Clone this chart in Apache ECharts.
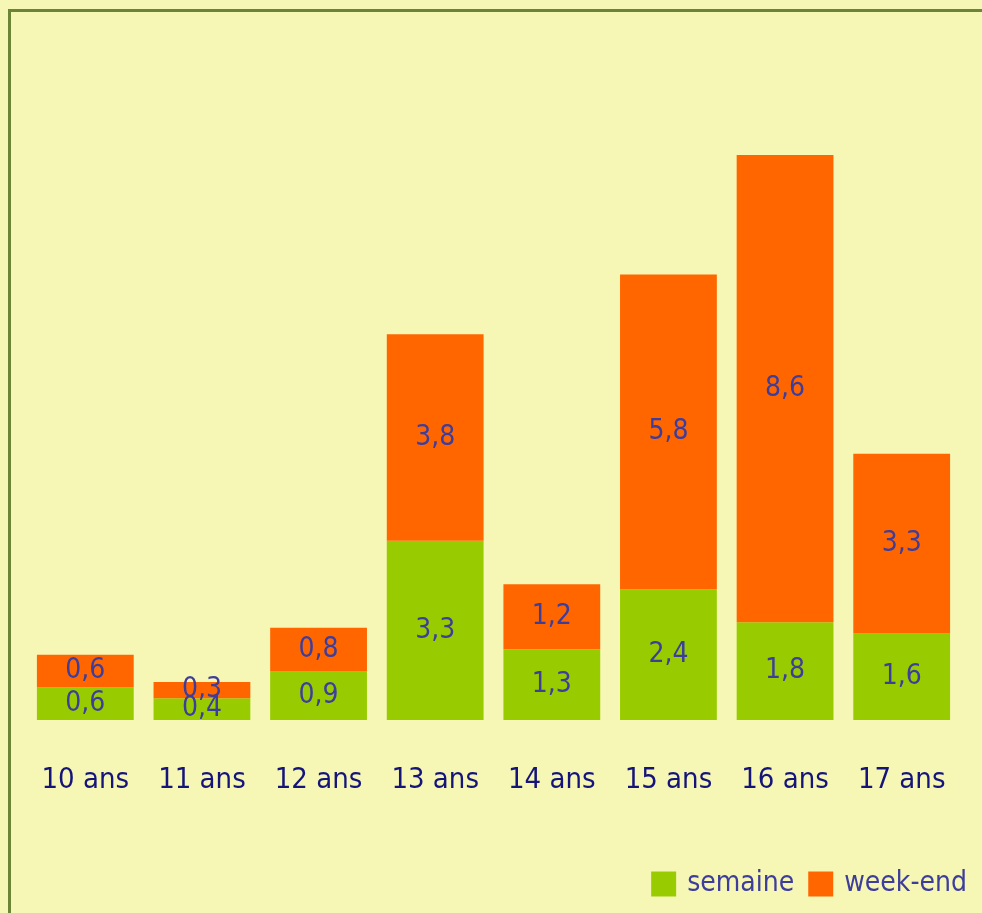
<!DOCTYPE html>
<html><head><meta charset="utf-8">
<script src="https://cdn.jsdelivr.net/npm/echarts@6/dist/echarts.min.js"></script>
<style>html,body{margin:0;padding:0;background:#f7f7b5;}#c{width:982px;height:913px;}</style>
</head><body><div id="c"></div>
<script>
const categories = ['10 ans','11 ans','12 ans','13 ans','14 ans','15 ans','16 ans','17 ans'];
const semaine = [0.6,0.4,0.9,3.3,1.3,2.4,1.8,1.6];
const weekend = [0.6,0.3,0.8,3.8,1.2,5.8,8.6,3.3];
const seriesNames = ['semaine','week-end'];

const font = '"Liberation Sans Narrow", "DejaVu Sans Condensed", sans-serif';
const chart = echarts.init(document.getElementById('c'));
const lbl = {
  show: true, position: 'inside', color: '#3d3d9c', fontFamily: font, fontSize: 28,
  formatter: p => String(p.value).replace('.', ',')
};
chart.setOption({
  backgroundColor: '#f7f7b5',
  animation: false,
  graphic: [
    {type:'rect', shape:{x:8,y:9,width:974,height:3}, style:{fill:'#6a8535'}},
    {type:'rect', shape:{x:8,y:9,width:3,height:904}, style:{fill:'#6a8535'}}
  ],
  grid: {left: 27, right: 22, top: 68, bottom: 193},
  legend: {
    right: 10, bottom: 10, itemWidth: 25, itemHeight: 25, itemGap: 14,
    icon: 'rect',
    textStyle: {color: '#3d3d9c', fontFamily: font, fontSize: 28, padding: [0,0,0,6]},
    data: seriesNames
  },
  xAxis: {
    type: 'category', data: categories,
    axisLine: {show: false}, axisTick: {show: false},
    axisLabel: {color: '#14147a', fontFamily: font, fontSize: 29, margin: 46, interval: 0}
  },
  yAxis: {type: 'value', min: 0, max: 12, show: false, splitLine: {show: false}},
  series: [
    {name: seriesNames[0], type: 'bar', stack: 't', data: semaine, barCategoryGap: '17%',
     itemStyle: {color: '#99cc00'}, label: lbl},
    {name: seriesNames[1], type: 'bar', stack: 't', data: weekend, barCategoryGap: '17%',
     itemStyle: {color: '#ff6600'}, label: lbl}
  ]
});
</script></body></html>
